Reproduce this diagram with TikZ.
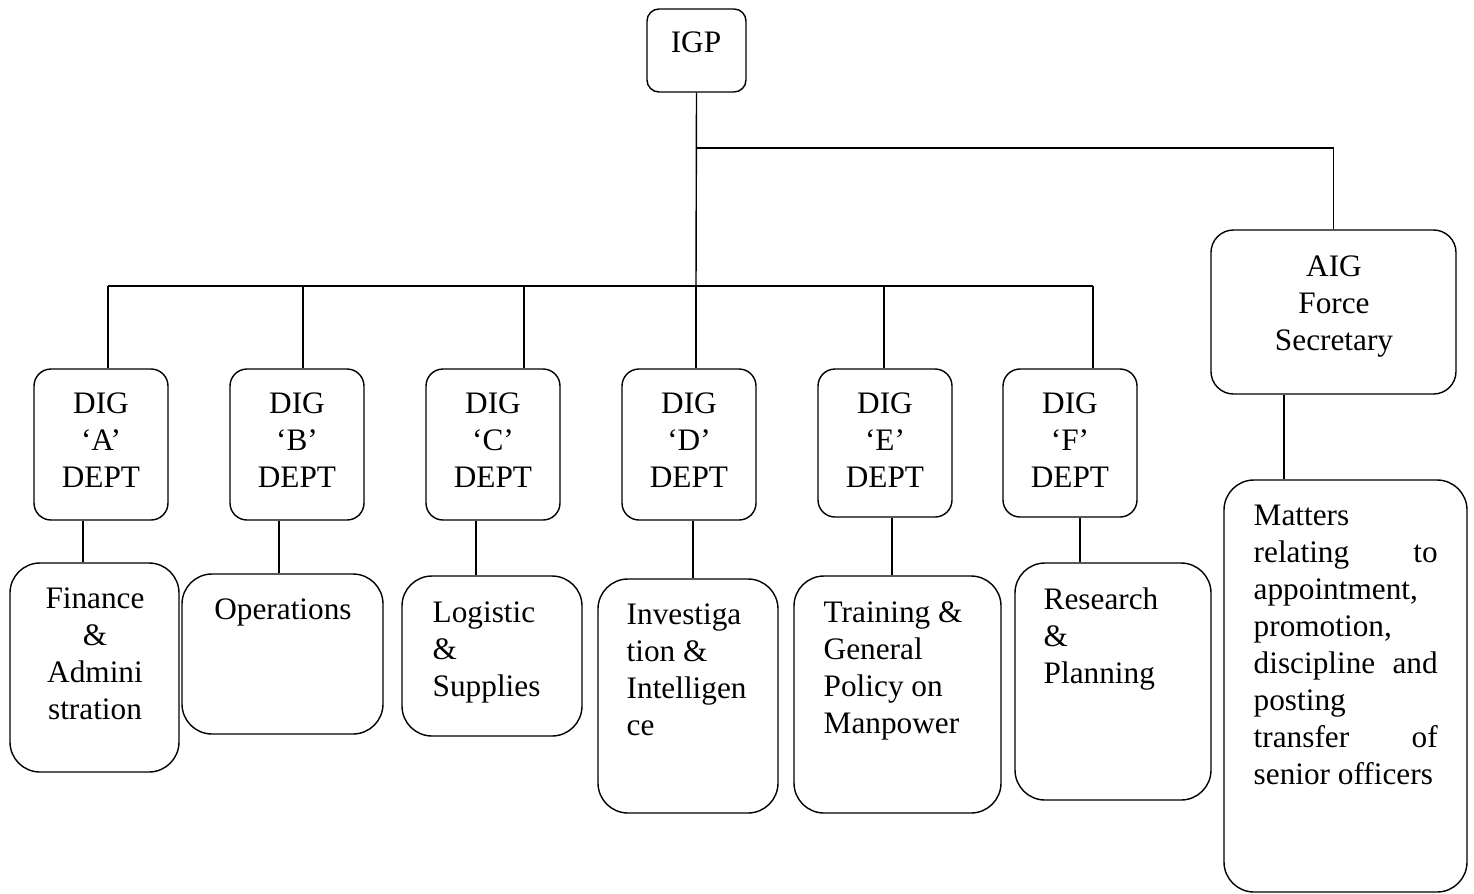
\documentclass[tikz,border=0pt]{standalone}
\usepackage{fontspec}
\setmainfont{Liberation Serif}
\usetikzlibrary{fit}
\tikzset{
  box/.style={draw, line width=0.8pt, rounded corners=#1, inner sep=0pt},
  box/.default=0.34cm,
  txt/.style={inner sep=0pt, anchor=base, align=center, font=\fontsize{17.8}{21}\selectfont},
  lefttxt/.style={txt, anchor=base west, align=left},
}
\begin{document}
\begin{tikzpicture}[x=0.02cm, y=-0.02cm, line width=0.8pt]
  \useasboundingbox (0,0) rectangle (1474,893);
  % boxes
  \node[box=0.24cm, fit={(647,9) (746,92)}] (IGP) {};
  \node[box=0.45cm, fit={(1211,230) (1456,394)}] (AIG) {};
  \node[box, fit={(34,369) (168,520)}] (A) {};
  \node[box, fit={(230,369) (364,520)}] (B) {};
  \node[box, fit={(426,369) (560,520)}] (C) {};
  \node[box, fit={(622,369) (756,520)}] (D) {};
  \node[box, fit={(818,369) (952,517)}] (E) {};
  \node[box, fit={(1003,369) (1137,517)}] (F) {};
  \node[box=0.6cm, fit={(10,563) (179,772)}] (Fin) {};
  \node[box=0.6cm, fit={(182,574) (383,734)}] (Ops) {};
  \node[box=0.6cm, fit={(402,576) (582,736)}] (Log) {};
  \node[box=0.6cm, fit={(598,579) (778,813)}] (Inv) {};
  \node[box=0.6cm, fit={(794,576) (1001,813)}] (Trn) {};
  \node[box=0.6cm, fit={(1015,563) (1211,800)}] (Res) {};
  \node[box=0.6cm, fit={(1224,480) (1467,892)}] (Mat) {};
  % texts (placed at the baseline of the last line)
  \node[txt] (IGP-t) at (696,52) {IGP};
  \node[txt] (AIG-t) at (1334,350) {AIG\\Force\\Secretary};
  \node[txt] (A-t) at (101,487) {DIG\\`A'\\DEPT};
  \node[txt] (B-t) at (297,487) {DIG\\`B'\\DEPT};
  \node[txt] (C-t) at (493,487) {DIG\\`C'\\DEPT};
  \node[txt] (D-t) at (689,487) {DIG\\`D'\\DEPT};
  \node[txt] (E-t) at (885,487) {DIG\\`E'\\DEPT};
  \node[txt] (F-t) at (1070,487) {DIG\\`F'\\DEPT};
  \node[txt] (Fin-t) at (95,719) {Finance\\\&\\Admini\\stration};
  \node[txt] (Ops-t) at (283,619) {Operations};
  \node[lefttxt] (Log-t) at (432,696) {Logistic\\\&\\Supplies};
  \node[lefttxt] (Inv-t) at (626,735) {Investiga\\tion \&\\Intelligen\\ce};
  \node[lefttxt] (Trn-t) at (823,733) {Training \&\\General\\Policy on\\Manpower};
  \node[lefttxt] (Res-t) at (1043,683) {Research\\\&\\Planning};
  \node[lefttxt] (Mat-t) at (1253,784) {Matters\\
    \hbox to 3.68cm{relating\hfill to}\\appointment,\\promotion,\\
    \hbox to 3.68cm{discipline\hfill and}\\posting\\
    \hbox to 3.68cm{transfer\hfill of}\\senior officers};
  % connectors
  \coordinate (bus) at (696,286);
  \coordinate (top) at (696,148);
  \coordinate (busA) at (108,286);
  \coordinate (busB) at (303,286);
  \coordinate (busC) at (524,286);
  \coordinate (busE) at (884,286);
  \coordinate (busF) at (1093,286);
  \draw (IGP.south) -- (bus);
  \draw (busA) -- (busF);
  \draw (top) -- (top -| AIG.north) -- (AIG.north);
  \draw (busA) -- (busA |- A.north);
  \draw (busB) -- (busB |- B.north);
  \draw (busC) -- (busC |- C.north);
  \draw (bus) -- (bus |- D.north);
  \draw (busE) -- (busE |- E.north);
  \draw (busF) -- (busF |- F.north);
  \coordinate (xFin) at (83,0);
  \coordinate (xOps) at (279,0);
  \coordinate (xLog) at (476,0);
  \coordinate (xInv) at (693,0);
  \coordinate (xTrn) at (892,0);
  \coordinate (xRes) at (1080,0);
  \coordinate (xMat) at (1284,0);
  \draw (xFin |- A.south) -- (xFin |- Fin.north);
  \draw (xOps |- B.south) -- (xOps |- Ops.north);
  \draw (xLog |- C.south) -- (xLog |- Log.north);
  \draw (xInv |- D.south) -- (xInv |- Inv.north);
  \draw (xTrn |- E.south) -- (xTrn |- Trn.north);
  \draw (xRes |- F.south) -- (xRes |- Res.north);
  \draw (xMat |- AIG.south) -- (xMat |- Mat.north);
\end{tikzpicture}
\end{document}
